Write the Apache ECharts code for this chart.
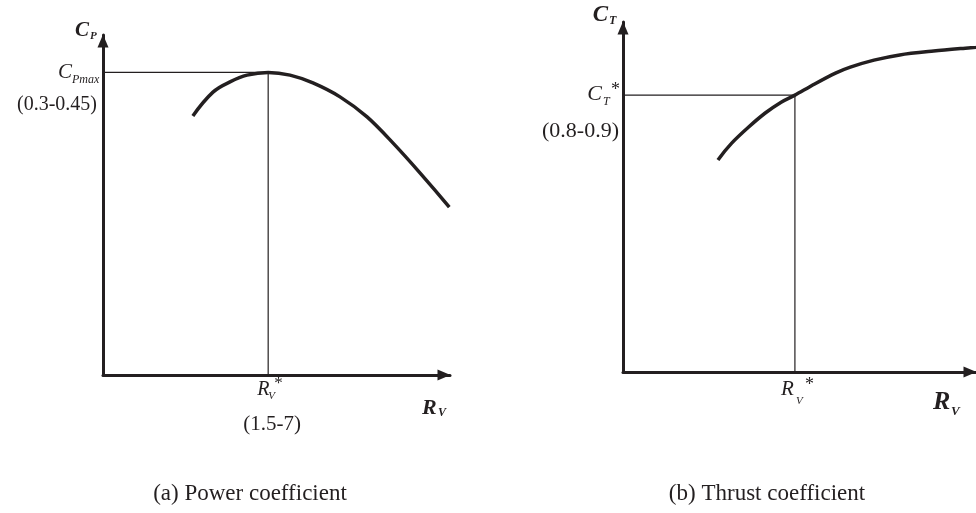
<!DOCTYPE html>
<html>
<head>
<meta charset="utf-8">
<script src="https://cdn.jsdelivr.net/npm/echarts@6/dist/echarts.min.js"></script>
<style>
  html, body { margin: 0; padding: 0; background: #ffffff; }
  #chart { width: 976px; height: 513px; }
</style>
</head>
<body>
<div id="chart"></div>
<script>
// Power coefficient curve C_P(R_V), schematic units (0..10 on both axes)
const powerX = [2.59, 3.17, 3.66, 4.15, 4.76, 5.39, 6.05, 6.83, 7.61, 8.36, 9.14, 9.98];
const powerY = [7.62, 8.32, 8.62, 8.82, 8.90, 8.82, 8.59, 8.18, 7.59, 6.82, 5.94, 4.94];
// Optimum point of the power curve (R_V*, C_Pmax)
const powerPeak = [4.76, 8.90];

// Thrust coefficient curve C_T(R_V)
const thrustX = [2.69, 3.08, 3.56, 4.03, 4.48, 4.87, 5.43, 6.02, 6.44, 7.11, 7.84, 8.80, 9.78, 10.0];
const thrustY = [6.06, 6.54, 7.00, 7.40, 7.71, 7.91, 8.23, 8.54, 8.71, 8.91, 9.06, 9.17, 9.26, 9.28];
// Operating point on the thrust curve (R_V*, C_T*)
const thrustRef = [4.87, 7.91];

const captions = ['(a) Power coefficient', '(b) Thrust coefficient'];
const rangeLabels = { cp: '(0.3-0.45)', rv: '(1.5-7)', ct: '(0.8-0.9)' };

const INK = '#231f20';
const SERIF = '"Liberation Serif", "DejaVu Serif", serif';

const zip = (xs, ys) => xs.map((x, i) => [x, ys[i]]);

// Catmull-Rom spline through pixel points, as cubic Bezier path data.
// End tangents come from a quadratic continuation of the first/last three points.
function splinePath(pts) {
  const n = pts.length;
  const ext = (a, b, c) => [3 * a[0] - 3 * b[0] + c[0], 3 * a[1] - 3 * b[1] + c[1]];
  const head = n > 2 ? ext(pts[0], pts[1], pts[2]) : pts[0];
  const tail = n > 2 ? ext(pts[n - 1], pts[n - 2], pts[n - 3]) : pts[n - 1];
  let d = 'M' + pts[0][0] + ',' + pts[0][1];
  for (let i = 0; i < n - 1; i++) {
    const p0 = i === 0 ? head : pts[i - 1];
    const p1 = pts[i];
    const p2 = pts[i + 1];
    const p3 = i + 2 < n ? pts[i + 2] : tail;
    const c1 = [p1[0] + (p2[0] - p0[0]) / 6, p1[1] + (p2[1] - p0[1]) / 6];
    const c2 = [p2[0] - (p3[0] - p1[0]) / 6, p2[1] - (p3[1] - p1[1]) / 6];
    d += ' C' + c1[0] + ',' + c1[1] + ' ' + c2[0] + ',' + c2[1] + ' ' + p2[0] + ',' + p2[1];
  }
  return d;
}

function curveSeries(idx, xs, ys) {
  const pts = zip(xs, ys);
  return {
    type: 'custom', xAxisIndex: idx, yAxisIndex: idx, clip: false, z: 3,
    data: [pts[0]],
    renderItem: (params, api) => ({
      type: 'path',
      shape: { pathData: splinePath(pts.map(p => api.coord(p))) },
      style: { stroke: INK, lineWidth: 3.5, fill: null, lineCap: 'butt', lineJoin: 'round' }
    })
  };
}

function axisOf(idx) {
  return {
    type: 'value', min: 0, max: 10, gridIndex: idx,
    axisLabel: { show: false }, axisTick: { show: false }, splitLine: { show: false },
    axisLine: {
      show: true, symbol: ['none', 'triangle'], symbolSize: [11, 13],
      symbolOffset: [0, -6],
      lineStyle: { color: INK, width: 3 }
    }
  };
}

const chart = echarts.init(document.getElementById('chart'), null, { renderer: 'canvas' });

chart.setOption({
  animation: false,
  backgroundColor: '#ffffff',
  grid: [
    { left: 103, top: 35, width: 347, height: 340 },
    { left: 623, top: 22, width: 357, height: 350 }
  ],
  xAxis: [axisOf(0), axisOf(1)],
  yAxis: [axisOf(0), axisOf(1)],
  series: [
    curveSeries(0, powerX, powerY),
    {
      type: 'line', xAxisIndex: 0, yAxisIndex: 0, showSymbol: false,
      data: [[0, powerPeak[1]], powerPeak, [powerPeak[0], 0]],
      lineStyle: { color: INK, width: 1.2 }, z: 1
    },
    curveSeries(1, thrustX, thrustY),
    {
      type: 'line', xAxisIndex: 1, yAxisIndex: 1, showSymbol: false,
      data: [[0, thrustRef[1]], thrustRef, [thrustRef[0], 0]],
      lineStyle: { color: INK, width: 1.2 }, z: 1
    }
  ]
});

// Text annotations, anchored to positions on each grid's scales
function px(gridIdx, pt) {
  return chart.convertToPixel({ xAxisIndex: gridIdx, yAxisIndex: gridIdx }, pt);
}
function txt(anchor, dx, dy, text, opts) {
  return {
    type: 'text', x: anchor[0] + dx, y: anchor[1] + dy, silent: true,
    style: Object.assign({
      text, fill: INK, fontFamily: SERIF, fontStyle: 'italic', fontSize: 20,
      align: 'left', verticalAlign: 'middle'
    }, opts || {})
  };
}

const g = [];
// Panel (a)
const aTop = px(0, [0, 10]);
const aPeakY = px(0, [0, powerPeak[1]]);
const aPeakX = px(0, [powerPeak[0], 0]);
const aEnd = px(0, [10, 0]);
g.push(txt(aTop, -14, -4, 'C', { fontWeight: 'bold', fontSize: 21, align: 'right' }));
g.push(txt(aTop, -13, 1, 'P', { fontWeight: 'bold', fontSize: 11 }));
g.push(txt(aPeakY, -31, 0, 'C', { fontSize: 21, align: 'right' }));
g.push(txt(aPeakY, -31, 7, 'Pmax', { fontSize: 12 }));
g.push(txt(aPeakY, -6, 32, rangeLabels.cp, { fontStyle: 'normal', fontSize: 20, align: 'right' }));
g.push(txt(aPeakX, -11, 15, 'R', { fontSize: 20 }));
g.push(txt(aPeakX, 0, 21, 'V', { fontSize: 11 }));
g.push(txt(aPeakX, 6, 9, '*', { fontStyle: 'normal', fontSize: 17 }));
g.push(txt(aPeakX, 4, 49, rangeLabels.rv, { fontStyle: 'normal', fontSize: 21, align: 'center' }));
g.push(txt(aEnd, -28, 33, 'R', { fontWeight: 'bold', fontSize: 22 }));
g.push(txt(aEnd, -12, 38, 'V', { fontWeight: 'bold', fontSize: 12 }));
g.push(txt([250, 0], 0, 494, captions[0],
  { fontStyle: 'normal', fontSize: 23, align: 'center' }));

// Panel (b)
const bTop = px(1, [0, 10]);
const bRefY = px(1, [0, thrustRef[1]]);
const bRefX = px(1, [thrustRef[0], 0]);
const bEnd = px(1, [10, 0]);
g.push(txt(bTop, -15, -7, 'C', { fontWeight: 'bold', fontSize: 23, align: 'right' }));
g.push(txt(bTop, -14, -1, 'T', { fontWeight: 'bold', fontSize: 12 }));
g.push(txt(bRefY, -21, -1, 'C', { fontSize: 22, align: 'right' }));
g.push(txt(bRefY, -20, 7, 'T', { fontSize: 12 }));
g.push(txt(bRefY, -12, -5, '*', { fontStyle: 'normal', fontSize: 18 }));
g.push(txt(bRefY, -4, 36, rangeLabels.ct, { fontStyle: 'normal', fontSize: 22, align: 'right' }));
g.push(txt(bRefX, -14, 17, 'R', { fontSize: 21 }));
g.push(txt(bRefX, 1, 29, 'V', { fontSize: 11 }));
g.push(txt(bRefX, 10, 13, '*', { fontStyle: 'normal', fontSize: 18 }));
g.push(txt(bEnd, -43, 30, 'R', { fontWeight: 'bold', fontSize: 26 }));
g.push(txt(bEnd, -25, 40, 'V', { fontWeight: 'bold', fontSize: 13 }));
g.push(txt([767, 0], 0, 494, captions[1],
  { fontStyle: 'normal', fontSize: 23, align: 'center' }));

chart.setOption({ graphic: g });
</script>
</body>
</html>
